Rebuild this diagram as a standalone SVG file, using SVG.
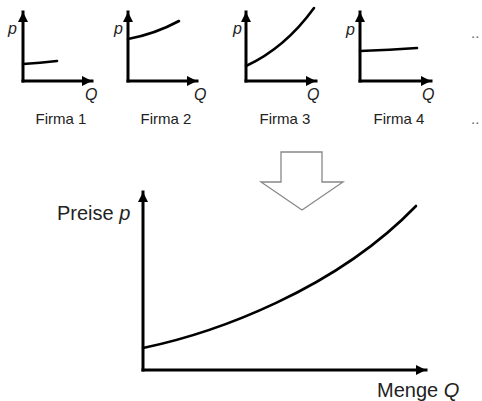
<svg xmlns="http://www.w3.org/2000/svg" width="482" height="401" viewBox="0 0 482 401">
<style>
.ax{stroke:#000;stroke-width:3;fill:none;stroke-linecap:square}
.cv{stroke:#000;stroke-width:2.6;fill:none;stroke-linecap:round}
.t{font-family:"Liberation Sans",Arial,sans-serif;fill:#222}
.s{font-size:15px}
.i{font-style:italic;font-size:16px}
.b{font-size:20px}
</style>
<defs>
<marker id="ah" markerUnits="userSpaceOnUse" markerWidth="12" markerHeight="10" refX="10" refY="5" orient="auto">
<path d="M0,0 L10,5 L0,10 Z" fill="#000"/>
</marker>
</defs>
<rect width="482" height="401" fill="#fff"/>
<g id="firma1">
<path class="ax" d="M23,81 V12" marker-end="url(#ah)"/>
<path class="ax" d="M23,81 H92" marker-end="url(#ah)"/>
<path class="cv" d="M23,64 Q40,63 57,61"/>
<text class="t i" x="8" y="34">p</text>
<text class="t i" x="85" y="100">Q</text>
<text class="t s" x="61" y="124" text-anchor="middle">Firma 1</text>
</g>
<g id="firma2">
<path class="ax" d="M128,81 V12" marker-end="url(#ah)"/>
<path class="ax" d="M128,81 H197" marker-end="url(#ah)"/>
<path class="cv" d="M128,39 Q155,34 179,21"/>
<text class="t i" x="114" y="34">p</text>
<text class="t i" x="194" y="100">Q</text>
<text class="t s" x="166" y="124" text-anchor="middle">Firma 2</text>
</g>
<g id="firma3">
<path class="ax" d="M246,81 V12" marker-end="url(#ah)"/>
<path class="ax" d="M246,81 H316" marker-end="url(#ah)"/>
<path class="cv" d="M246,66 Q285,48 314,8"/>
<text class="t i" x="233" y="34">p</text>
<text class="t i" x="307" y="100">Q</text>
<text class="t s" x="285" y="124" text-anchor="middle">Firma 3</text>
</g>
<g id="firma4">
<path class="ax" d="M360,81 V12" marker-end="url(#ah)"/>
<path class="ax" d="M360,81 H431" marker-end="url(#ah)"/>
<path class="cv" d="M360,51 Q390,50 417,48"/>
<text class="t i" x="346" y="35">p</text>
<text class="t i" x="422" y="100">Q</text>
<text class="t s" x="399" y="124" text-anchor="middle">Firma 4</text>
</g>
<g id="dots">
<text class="t s" x="471" y="38" fill="#666" style="fill:#666">..</text>
<text class="t s" x="471" y="124" style="fill:#666">..</text>
</g>
<g id="pfeil">
<polygon points="281,152 322,152 322,182 343,182 302,210 261,182 281,182" fill="#fff" stroke="#888" stroke-width="1.3" stroke-linejoin="miter"/>
</g>
<g id="markt">
<path class="ax" d="M143,370 V192" marker-end="url(#ah)"/>
<path class="ax" d="M143,370 H426" marker-end="url(#ah)"/>
<path class="cv" d="M143,348 C215,333 335,290 416,206" stroke-width="3"/>
<text class="t b" x="57" y="220">Preise <tspan font-style="italic">p</tspan></text>
<text class="t b" x="377" y="397">Menge <tspan font-style="italic">Q</tspan></text>
</g>
</svg>
